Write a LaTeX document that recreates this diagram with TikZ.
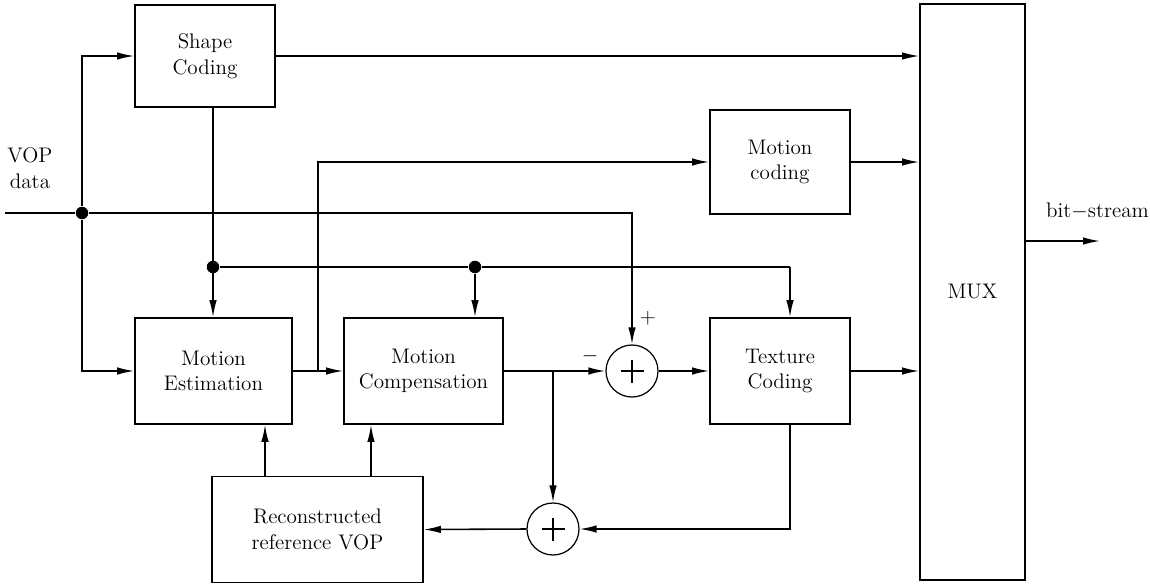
\documentclass[tikz,border=0pt]{standalone}
\usetikzlibrary{arrows.meta, positioning, calc}

\begin{document}
\begin{tikzpicture}[
  >={Latex[length=3.4mm,width=1.5mm]},
  line width=0.9pt,
  font=\fontsize{12}{14.5}\selectfont,
  % Node styles
  block/.style={rectangle, draw, align=center, inner sep=2pt},
  adder/.style={circle, draw, line width=0.7pt, minimum size=10.4mm, inner sep=0pt,
    path picture={
      \draw[line width=0.8pt] ($(path picture bounding box.center)+(-0.23,0)$) -- ++(0.46,0);
      \draw[line width=0.8pt] ($(path picture bounding box.center)+(0,-0.23)$) -- ++(0,0.46);
    }},
  junction/.style={circle, fill, minimum size=2.5mm, inner sep=0pt},
  sign/.style={font=\fontsize{12}{12}\selectfont, inner sep=0pt}
]
\useasboundingbox (0,0) rectangle (23,-11.68);

% ------------------------------------------------------------
% Blocks
% ------------------------------------------------------------
\node[block, minimum width=2.8cm,  minimum height=2.04cm] (shapec) at (4.10,-1.12) {Shape\\Coding};
\node[block, minimum width=2.8cm,  minimum height=2.08cm] (mcod)   at (15.60,-3.24) {Motion\\coding};
\node[block, minimum width=3.14cm, minimum height=2.12cm] (mest)   at (4.27,-7.42) {Motion\\Estimation};
\node[block, minimum width=3.18cm, minimum height=2.12cm] (mcomp)  at (8.47,-7.42) {Motion\\Compensation};
\node[block, minimum width=2.8cm,  minimum height=2.12cm] (tex)    at (15.60,-7.42) {Texture\\Coding};
\node[block, minimum width=4.22cm, minimum height=2.12cm] (recon)  at (6.35,-10.59) {Reconstructed\\reference VOP};
\node[block, minimum width=2.1cm,  minimum height=11.52cm] (mux)   at (19.45,-5.84) {MUX};

% adders
\node[adder] (addA) at (12.64,-7.42) {};
\node[adder] (addB) at (11.06,-10.58) {};

% ------------------------------------------------------------
% Input and branch points
% ------------------------------------------------------------
\coordinate (vin) at (0.1,-4.26);
\node[junction] (jin) at (1.64,-4.26) {};
\node[junction] (jshape) at (4.26,-5.34) {};
\node[junction] (jcomp) at (9.50,-5.34) {};
\coordinate (jtex) at (15.80,-5.34);
\coordinate (jme) at (6.36,-7.42);
\coordinate (jmc) at (11.06,-7.42);
\coordinate (out) at (22.0,-4.82);

\node[align=center] (vop) at (0.6,-3.36) {VOP\\data};
\node (bits) at (21.95,-4.22) {bit$-$stream};
\node[sign] (plus)  at (12.96,-6.36) {$+$};
\node[sign] (minus) at (11.80,-7.12) {$-$};

% ------------------------------------------------------------
% Connections
% ------------------------------------------------------------
% VOP data
\draw (vin) -- (jin);
\draw[->] (jin) |- (shapec.west);
\draw[->] (jin) |- (mest.west);
\draw[->] (jin) -| (addA.north);

% shape information
\draw[->] (jshape |- shapec.south) -- (jshape |- mest.north);
\draw (jshape) -- (jcomp) -- (jtex);
\draw[->] (jcomp) -- (jcomp |- mcomp.north);
\draw[->] (jtex) -- (jtex |- tex.north);
\draw[->] (shapec.east) -- (shapec.east -| mux.west);

% motion
\draw[->] (mest.east) -- (mcomp.west);
\draw[->] (jme) |- (mcod.west);
\draw[->] (mcod.east) -- (mcod.east -| mux.west);

% texture
\draw[->] (mcomp.east) -- (addA.west);
\draw[->] (jmc) -- (addB.north);
\draw[->] (addA.east) -- (tex.west);
\draw[->] (tex.east) -- (tex.east -| mux.west);

% reconstruction loop
\draw[->] (jtex |- tex.south) |- (addB.east);
\draw[->] (addB.west) -- (recon.east);
\draw[->] (recon.north -| 5.30,0) -- (mest.south -| 5.30,0);
\draw[->] (recon.north -| 7.42,0) -- (mcomp.south -| 7.42,0);

% output
\draw[->] (mux.east |- out) -- (out);

\end{tikzpicture}
\end{document}
